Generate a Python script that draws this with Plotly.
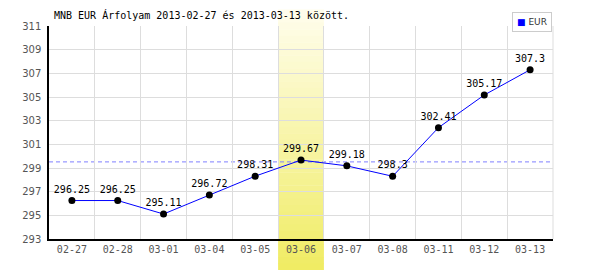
import plotly.graph_objects as go

categories = ["02-27", "02-28", "03-01", "03-04", "03-05", "03-06",
              "03-07", "03-08", "03-11", "03-12", "03-13"]
values = [296.25, 296.25, 295.11, 296.72, 298.31, 299.67,
          299.18, 298.3, 302.41, 305.17, 307.3]
value_labels = ["296.25", "296.25", "295.11", "296.72", "298.31", "299.67",
                "299.18", "298.3", "302.41", "305.17", "307.3"]
highlight = "03-06"
title_text = "MNB EUR Árfolyam 2013-02-27 és 2013-03-13 között."
series_name = "EUR"

mean_val = sum(values) / len(values)
mono = "DejaVu Sans Mono"

fig = go.Figure()
fig.add_trace(go.Scatter(
    x=categories, y=values, mode="lines+markers+text",
    line=dict(color="#0000ff", width=1),
    marker=dict(color="black", size=7),
    text=value_labels, textposition="top center",
    textfont=dict(family=mono, size=10, color="black"),
    showlegend=False, cliponaxis=False,
))

# highlighted band (vertical gradient made of stripes)
hi = categories.index(highlight)
n = 40
y_lo, y_hi = -0.148, 1.075
top_rgb = (255, 253, 235)
bot_rgb = (240, 236, 100)
shapes = []
for i in range(n):
    t = i / (n - 1)
    r = round(top_rgb[0] + (bot_rgb[0] - top_rgb[0]) * t)
    g = round(top_rgb[1] + (bot_rgb[1] - top_rgb[1]) * t)
    b = round(top_rgb[2] + (bot_rgb[2] - top_rgb[2]) * t)
    ya = y_hi - (y_hi - y_lo) * i / n
    yb = y_hi - (y_hi - y_lo) * (i + 1) / n
    shapes.append(dict(type="rect", xref="x", yref="paper",
                       x0=hi - 0.5, x1=hi + 0.5, y0=yb, y1=ya + 0.002,
                       fillcolor=f"rgb({r},{g},{b})", line=dict(width=0),
                       layer="between"))
# mean dashed line
shapes.append(dict(type="line", xref="paper", yref="y", x0=0, x1=1,
                   y0=mean_val, y1=mean_val,
                   line=dict(color="#7f7fff", width=1, dash="4px,3px"), layer="between"))
# right border
shapes.append(dict(type="line", xref="paper", yref="paper", x0=1, x1=1, y0=0, y1=1,
                   line=dict(color="#dddddd", width=1), layer="below"))

fig.update_layout(
    width=600, height=270,
    margin=dict(l=49, r=47, t=26, b=31),
    paper_bgcolor="white", plot_bgcolor="white",
    shapes=shapes,
    showlegend=False,
    xaxis=dict(type="category", range=[-0.5, len(categories) - 0.5],
               tickson="boundaries", showgrid=True, gridcolor="#dddddd",
               showline=True, linecolor="black", linewidth=1.5,
               ticks="", tickfont=dict(family=mono, size=10, color="#555555"),
               fixedrange=True, zeroline=False),
    yaxis=dict(range=[293, 311], dtick=2, tick0=293,
               showgrid=True, gridcolor="#dddddd",
               showline=True, linecolor="black", linewidth=1.5,
               ticks="", tickfont=dict(family="DejaVu Sans", size=10, color="#555555"),
               zeroline=False, ticklabelstandoff=4),
    annotations=[
        dict(text=title_text, xref="paper", yref="paper", x=0.005, y=1.012,
             xanchor="left", yanchor="bottom", showarrow=False,
             font=dict(family=mono, size=10, color="black")),
        dict(text="<span style='color:#0000ff'>■</span> " + series_name,
             xref="paper", yref="paper", x=0.998, y=1.066,
             xanchor="right", yanchor="top", showarrow=False,
             bordercolor="#cccccc", borderwidth=1, borderpad=4, bgcolor="white",
             font=dict(family="DejaVu Sans", size=9, color="#333333")),
    ],
)

fig.write_html("out.html")
